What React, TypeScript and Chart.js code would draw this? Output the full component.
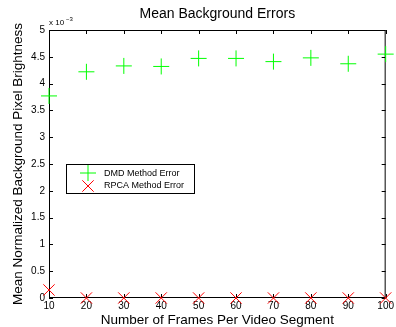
import React, { useEffect, useRef } from "react";
import { Chart, registerables } from "chart.js";

Chart.register(...registerables);

const frames = [10, 20, 30, 40, 50, 60, 70, 80, 90, 100];
const dmdError = [3.77, 4.22, 4.33, 4.32, 4.47, 4.47, 4.41, 4.48, 4.37, 4.55];
const rpcaError = [0.15, 0, 0, 0, 0, 0, 0, 0, 0, 0];
const xTicks = [10, 20, 30, 40, 50, 60, 70, 80, 90, 100];
const yTicks = [0, 0.5, 1, 1.5, 2, 2.5, 3, 3.5, 4, 4.5, 5];

const FONT = "'Liberation Sans', Arial, Helvetica, sans-serif";

const overlay = {
  id: "overlay",
  beforeDatasetsDraw(chart: any) {
    const { ctx, chartArea: a, scales } = chart;
    const xs = scales.x;
    const ys = scales.y;
    ctx.save();
    ctx.strokeStyle = "#000";
    ctx.lineWidth = 1;
    ctx.strokeRect(a.left + 0.5, a.top + 0.5, a.right - a.left - 1, a.bottom - a.top - 1);
    const tl = 4;
    ctx.beginPath();
    xTicks.forEach((v) => {
      const px = Math.round(xs.getPixelForValue(v)) + 0.5;
      ctx.moveTo(px, a.bottom);
      ctx.lineTo(px, a.bottom - tl);
      ctx.moveTo(px, a.top);
      ctx.lineTo(px, a.top + tl);
    });
    yTicks.forEach((v) => {
      const py = Math.round(ys.getPixelForValue(v)) + 0.5;
      ctx.moveTo(a.left, py);
      ctx.lineTo(a.left + tl, py);
      ctx.moveTo(a.right, py);
      ctx.lineTo(a.right - tl, py);
    });
    ctx.stroke();
    ctx.restore();
  },
  afterDraw(chart: any) {
    const { ctx, chartArea: a } = chart;
    ctx.save();
    ctx.fillStyle = "#000";
    ctx.textAlign = "center";
    ctx.textBaseline = "middle";
    ctx.font = `14px ${FONT}`;
    ctx.fillText("Mean Background Errors", (a.left + a.right) / 2, 14);
    ctx.font = `13.5px ${FONT}`;
    ctx.fillText("Number of Frames Per Video Segment", (a.left + a.right) / 2, 320);
    ctx.save();
    ctx.translate(18, (a.top + a.bottom) / 2);
    ctx.rotate(-Math.PI / 2);
    ctx.fillText("Mean Normalized Background Pixel Brightness", 0, 0);
    ctx.restore();
    ctx.textAlign = "left";
    ctx.font = `8px ${FONT}`;
    ctx.fillText("x 10", a.left, 23);
    ctx.font = `6px ${FONT}`;
    ctx.fillText("\u22123", a.left + 17, 19);

    const lx = 66, ly = 164, lw = 128, lh = 29;
    ctx.fillStyle = "#fff";
    ctx.fillRect(lx, ly, lw, lh);
    ctx.strokeStyle = "#000";
    ctx.lineWidth = 1;
    ctx.strokeRect(lx + 0.5, ly + 0.5, lw, lh);
    const mx = 88;
    const y1 = 173, y2 = 186;
    ctx.strokeStyle = "#00ff00";
    ctx.beginPath();
    ctx.moveTo(mx - 8, y1);
    ctx.lineTo(mx + 8, y1);
    ctx.moveTo(mx, y1 - 8);
    ctx.lineTo(mx, y1 + 8);
    ctx.stroke();
    ctx.strokeStyle = "#ff0000";
    ctx.beginPath();
    ctx.moveTo(mx - 5.7, y2 - 5.7);
    ctx.lineTo(mx + 5.7, y2 + 5.7);
    ctx.moveTo(mx - 5.7, y2 + 5.7);
    ctx.lineTo(mx + 5.7, y2 - 5.7);
    ctx.stroke();
    ctx.fillStyle = "#000";
    ctx.font = `9px ${FONT}`;
    ctx.textBaseline = "middle";
    ctx.fillText("DMD Method Error", 104, y1 + 0.5);
    ctx.fillText("RPCA Method Error", 104, y2);
    ctx.restore();
  },
};

export default function App() {
  const ref = useRef<HTMLCanvasElement | null>(null);
  useEffect(() => {
    if (!ref.current) return;
    const chart = new Chart(ref.current, {
      type: "scatter",
      data: {
        datasets: [
          {
            label: "DMD Method Error",
            data: frames.map((f, i) => ({ x: f, y: dmdError[i] })),
            pointStyle: "cross",
            pointRadius: 8,
            pointBorderWidth: 1,
            borderColor: "#00ff00",
            backgroundColor: "#00ff00",
            showLine: false,
            clip: false,
          },
          {
            label: "RPCA Method Error",
            data: frames.map((f, i) => ({ x: f, y: rpcaError[i] })),
            pointStyle: "crossRot",
            pointRadius: 8,
            pointBorderWidth: 1,
            borderColor: "#ff0000",
            backgroundColor: "#ff0000",
            showLine: false,
            clip: false,
          },
        ],
      },
      plugins: [overlay],
      options: {
        animation: false,
        responsive: false,
        maintainAspectRatio: false,
        layout: { padding: { top: 30, right: 8, left: 0, bottom: 0 } },
        plugins: {
          legend: { display: false },
          title: { display: false },
          tooltip: { enabled: false },
        },
        scales: {
          x: {
            type: "linear",
            min: 10,
            max: 100,
            afterFit: (s: any) => {
              s.height = 29;
            },
            afterBuildTicks: (s: any) => {
              s.ticks = xTicks.map((v) => ({ value: v }));
            },
            grid: { display: false, drawTicks: false },
            border: { display: false },
            ticks: {
              padding: 2,
              color: "#000",
              font: { family: FONT, size: 10 },
              maxRotation: 0,
              autoSkip: false,
            },
          },
          y: {
            type: "linear",
            min: 0,
            max: 5,
            afterFit: (s: any) => {
              s.width = 49;
            },
            afterBuildTicks: (s: any) => {
              s.ticks = yTicks.map((v) => ({ value: v }));
            },
            grid: { display: false, drawTicks: false },
            border: { display: false },
            ticks: {
              padding: 4,
              color: "#000",
              font: { family: FONT, size: 10 },
              autoSkip: false,
              callback: (v: any) => String(v),
            },
          },
        },
      },
    } as any);
    return () => chart.destroy();
  }, []);
  return (
    <div style={{ position: "fixed", left: 0, top: 0, width: 396, height: 327, background: "#fff" }}>
      <canvas ref={ref} width={396} height={327} style={{ width: 396, height: 327 }} />
    </div>
  );
}
